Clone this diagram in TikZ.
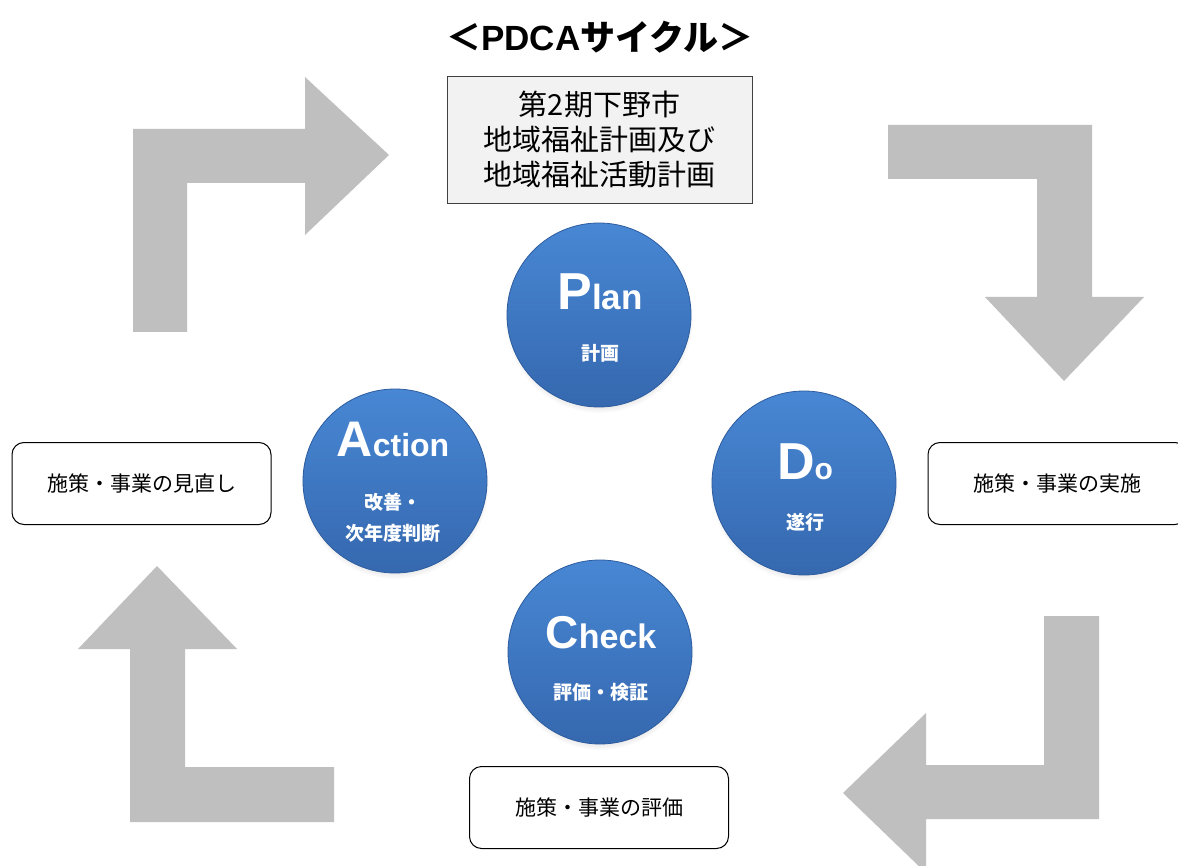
\documentclass[tikz,border=0pt]{standalone}
\usepackage{fontspec}
\setmainfont{Noto Sans CJK JP}
\newfontfamily\latinfont{Liberation Sans}
\usetikzlibrary{shadows,calc}
\definecolor{arrowgray}{HTML}{BFBFBF}
\definecolor{balltop}{HTML}{4887D4}
\definecolor{ballbot}{HTML}{3568AF}
\definecolor{balledge}{HTML}{2D5C9E}
\definecolor{boxgray}{HTML}{F2F2F2}
\newcommand{\fsz}[1]{\fontsize{#1}{#1}\selectfont}
\begin{document}
\begin{tikzpicture}[x=1pt,y=-1pt,
  ball/.style={circle, minimum size=184pt, inner sep=0pt,
    top color=balltop, bottom color=ballbot, draw=balledge, line width=0.8pt,
    circular drop shadow={opacity=0.35, shadow xshift=0pt, shadow yshift=-4pt, shadow scale=1.02}},
  balltitle/.style={anchor=base, inner sep=0pt, text=white, font=\latinfont\bfseries},
  ballsub/.style={inner sep=0pt, text=white, font=\fsz{19}\bfseries},
  stagebox/.style={draw=black, line width=1pt, rounded corners=12pt, fill=white,
    minimum width=259pt, minimum height=82pt, font=\fsz{21}},
  arrowshape/.style={fill=arrowgray}
]
\clip (0,0) rectangle (1178,866);
\fill[white] (0,0) rectangle (1178,866);

% bent arrows
\fill[arrowshape] (133,332) -- (133,129) -- (305,129) -- (305,77) -- (389,155) -- (305,235) -- (305,183) -- (187,183) -- (187,332) -- cycle;
\fill[arrowshape] (888,125) -- (1092,125) -- (1092,297) -- (1144,297) -- (1064,381) -- (985,297) -- (1037,297) -- (1037,179) -- (888,179) -- cycle;
\fill[arrowshape] (1099,616) -- (1099,819) -- (926,819) -- (926,873) -- (843,793) -- (926,713) -- (926,765) -- (1044,765) -- (1044,616) -- cycle;
\fill[arrowshape] (157,566) -- (237,649) -- (185,649) -- (185,767) -- (334,767) -- (334,822) -- (130,822) -- (130,649) -- (78,649) -- cycle;

% title
\node[font=\fsz{35}\bfseries, inner sep=0pt] (title) at (600,37) {＜{\latinfont\bfseries PDCA}サイクル＞};

% plan box
\node[draw=black!75, line width=0.8pt, fill=boxgray, minimum width=305pt, minimum height=127pt,
  align=center, font=\fontsize{29}{35}\selectfont, inner sep=0pt] (plan) at (599.5,139.5)
  {第2期下野市\\地域福祉計画及び\\地域福祉活動計画};

% circles
\node[ball] (P) at (599,315) {};
\node[ball] (D) at (804,483) {};
\node[ball] (C) at (600,652) {};
\node[ball] (A) at (395,481) {};

\node[balltitle] (Pt) at (600,310) {{\fsz{52}P}{\fsz{35}lan}};
\node[ballsub] (Ps) at (600,353) {計画};

\node[balltitle] (Dt) at (805,479) {{\fsz{52}D}{\fsz{30}o}};
\node[ballsub] (Ds) at (805,522) {遂行};

\node[balltitle] (Ct) at (601,648) {{\fsz{46}C}{\fsz{34}heck}};
\node[ballsub] (Cs) at (601,692) {評価・検証};

\node[balltitle] (At) at (393,456) {{\fsz{50}A}{\fsz{32}ction}};
\node[ballsub] (As1) at (393,502) {改善・};
\node[ballsub] (As2) at (393,533) {次年度判断};

% stage boxes
\node[stagebox] (review) at (141.5,483.5) {施策・事業の見直し};
\node[stagebox] (exec) at (1057.5,483.5) {施策・事業の実施};
\node[stagebox] (eval) at (599,807.5) {施策・事業の評価};
\end{tikzpicture}
\end{document}
